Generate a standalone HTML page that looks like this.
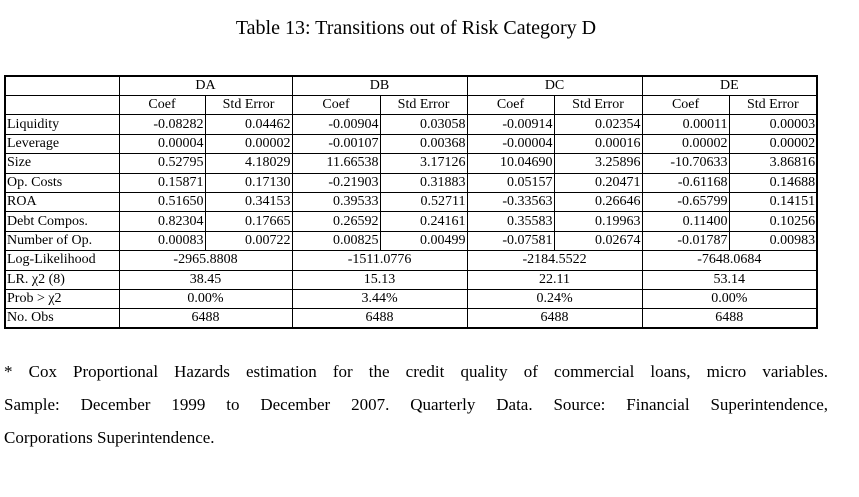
<!DOCTYPE html>
<html><head><meta charset="utf-8"><style>
html,body{margin:0;padding:0;background:#fff;width:859px;height:497px;overflow:hidden;font-family:"Liberation Serif",serif;color:#000}
#title{position:absolute;left:0;width:832px;top:17px;text-align:center;font-size:20px}
table{position:absolute;left:4px;top:75px;width:812px;border-collapse:collapse;table-layout:fixed;font-size:14px;border:2px solid #000}
td{border:1px solid #000;height:19.4px;padding:0 1px;line-height:18px;white-space:nowrap;overflow:hidden;box-sizing:border-box}
td.n{text-align:right}
td.c{text-align:center}
.fn{position:absolute;left:4px;width:824px;font-size:17px;text-align:justify;text-align-last:justify}
</style></head><body>
<div id="title">Table 13: Transitions out of Risk Category D</div>
<table>
<colgroup><col style="width:114px"><col style="width:86px"><col style="width:87px"><col style="width:88px"><col style="width:87px"><col style="width:87px"><col style="width:88px"><col style="width:87px"><col style="width:88px"></colgroup>
<tr><td></td><td class="c" colspan="2">DA</td><td class="c" colspan="2">DB</td><td class="c" colspan="2">DC</td><td class="c" colspan="2">DE</td></tr>
<tr><td></td><td class="c">Coef</td><td class="c">Std Error</td><td class="c">Coef</td><td class="c">Std Error</td><td class="c">Coef</td><td class="c">Std Error</td><td class="c">Coef</td><td class="c">Std Error</td></tr>
<tr><td>Liquidity</td><td class="n">-0.08282</td><td class="n">0.04462</td><td class="n">-0.00904</td><td class="n">0.03058</td><td class="n">-0.00914</td><td class="n">0.02354</td><td class="n">0.00011</td><td class="n">0.00003</td></tr>
<tr><td>Leverage</td><td class="n">0.00004</td><td class="n">0.00002</td><td class="n">-0.00107</td><td class="n">0.00368</td><td class="n">-0.00004</td><td class="n">0.00016</td><td class="n">0.00002</td><td class="n">0.00002</td></tr>
<tr><td>Size</td><td class="n">0.52795</td><td class="n">4.18029</td><td class="n">11.66538</td><td class="n">3.17126</td><td class="n">10.04690</td><td class="n">3.25896</td><td class="n">-10.70633</td><td class="n">3.86816</td></tr>
<tr><td>Op. Costs</td><td class="n">0.15871</td><td class="n">0.17130</td><td class="n">-0.21903</td><td class="n">0.31883</td><td class="n">0.05157</td><td class="n">0.20471</td><td class="n">-0.61168</td><td class="n">0.14688</td></tr>
<tr><td>ROA</td><td class="n">0.51650</td><td class="n">0.34153</td><td class="n">0.39533</td><td class="n">0.52711</td><td class="n">-0.33563</td><td class="n">0.26646</td><td class="n">-0.65799</td><td class="n">0.14151</td></tr>
<tr><td>Debt Compos.</td><td class="n">0.82304</td><td class="n">0.17665</td><td class="n">0.26592</td><td class="n">0.24161</td><td class="n">0.35583</td><td class="n">0.19963</td><td class="n">0.11400</td><td class="n">0.10256</td></tr>
<tr><td>Number of Op.</td><td class="n">0.00083</td><td class="n">0.00722</td><td class="n">0.00825</td><td class="n">0.00499</td><td class="n">-0.07581</td><td class="n">0.02674</td><td class="n">-0.01787</td><td class="n">0.00983</td></tr>
<tr><td>Log-Likelihood</td><td class="c" colspan="2">-2965.8808</td><td class="c" colspan="2">-1511.0776</td><td class="c" colspan="2">-2184.5522</td><td class="c" colspan="2">-7648.0684</td></tr>
<tr><td>LR. χ2 (8)</td><td class="c" colspan="2">38.45</td><td class="c" colspan="2">15.13</td><td class="c" colspan="2">22.11</td><td class="c" colspan="2">53.14</td></tr>
<tr><td>Prob &gt; χ2</td><td class="c" colspan="2">0.00%</td><td class="c" colspan="2">3.44%</td><td class="c" colspan="2">0.24%</td><td class="c" colspan="2">0.00%</td></tr>
<tr><td>No. Obs</td><td class="c" colspan="2">6488</td><td class="c" colspan="2">6488</td><td class="c" colspan="2">6488</td><td class="c" colspan="2">6488</td></tr>
</table>
<div class="fn" style="top:362px">* Cox Proportional Hazards estimation for the credit quality of commercial loans, micro variables.</div>
<div class="fn" style="top:395px">Sample: December 1999 to December 2007. Quarterly Data. Source: Financial Superintendence,</div>
<div class="fn" style="top:428px;text-align-last:left">Corporations Superintendence.</div>
</body></html>
